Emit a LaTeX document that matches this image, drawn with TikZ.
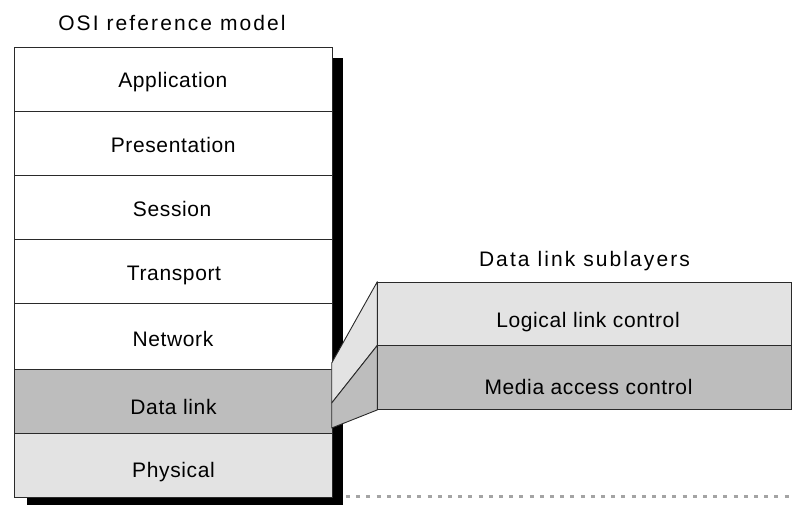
\documentclass[tikz,border=0pt]{standalone}
\usepackage{fontspec}
\setmainfont{Liberation Sans}[LetterSpace=3]
\newfontfamily\titlefont{Liberation Sans}[LetterSpace=10]
\definecolor{midgray}{HTML}{BDBDBD}
\definecolor{lightgray}{HTML}{E3E3E3}
\definecolor{edgegray}{HTML}{2A2A2A}
\definecolor{dotgray}{HTML}{A4A4A4}
\begin{document}
\begin{tikzpicture}[x=1pt,y=-1pt,
  layer/.style={draw=edgegray, line width=0.9pt, minimum width=318.2pt,
    inner sep=0pt, anchor=north west, fill=white},
  sublayer/.style={draw=edgegray, line width=0.9pt, minimum width=413.4pt,
    inner sep=0pt, anchor=north west},
  lbl/.style={anchor=base, inner sep=0pt, font=\fontsize{21}{25}\selectfont},
  ttl/.style={anchor=base, inner sep=0pt, font=\titlefont\fontsize{21}{25}\selectfont},
  wedge/.style={draw=edgegray, line width=0.9pt, line join=round}]
\useasboundingbox (0,0) rectangle (792,504);
\clip (0,0) rectangle (792,504);

% drop shadow behind the stack
\fill[black] (26.7,58) rectangle (343,512);

% the seven OSI layers
\node[layer, minimum height=64.3pt] (app)   at (13.5,46.7)  {};
\node[layer, minimum height=64pt]   (pres)  at (13.5,111)   {};
\node[layer, minimum height=64.3pt] (sess)  at (13.5,175)   {};
\node[layer, minimum height=63.4pt] (trans) at (13.5,239.3) {};
\node[layer, minimum height=66.6pt] (net)   at (13.5,302.7) {};
\node[layer, minimum height=63.4pt, fill=midgray]   (dl)   at (13.5,369.3) {};
\node[layer, minimum height=64pt,   fill=lightgray] (phys) at (13.5,432.7) {};

\node[lbl] (tapp)   at (172.8,87)    {Application};
\node[lbl] (tpres)  at (173.2,152.3) {Presentation};
\node[lbl] (tsess)  at (172.2,216.7) {Session};
\node[lbl] (ttrans) at (174,280.7)   {Transport};
\node[lbl] (tnet)   at (173,346.7)   {Network};
\node[lbl] (tdl)    at (173.5,414)   {Data link};
\node[lbl] (tphys)  at (173.5,477.3) {Physical};

\node[ttl] (osi) at (172,30.7) {OSI reference model};

% data link sublayers
\node[sublayer, minimum height=63.7pt, fill=lightgray] (llc) at (377.3,281.7) {};
\node[sublayer, minimum height=63.6pt, fill=midgray]   (mac) at (377.3,345.4) {};
\node[lbl] (tllc) at (588,327.3) {Logical link control};
\node[lbl] (tmac) at (588.5,394)  {Media access control};
\node[ttl] (subt) at (584.5,266)  {Data link sublayers};

% wedge joining the data link layer to its sublayers
\coordinate (wa) at (331.7,363);
\coordinate (wb) at (331.7,403);
\coordinate (wc) at (331.7,428);
\filldraw[wedge, fill=lightgray] (wa) -- (llc.north west) -- (mac.north west) -- (wb) -- cycle;
\filldraw[wedge, fill=midgray]   (wb) -- (mac.north west) -- (mac.south west) -- (wc) -- cycle;

% dotted base line
\coordinate (d1) at (346,496.5);
\coordinate (d2) at (795,496.5);
\draw[dotgray, line width=3.2pt, dash pattern=on 4pt off 6.2pt] (d1) -- (d2);
\end{tikzpicture}
\end{document}
